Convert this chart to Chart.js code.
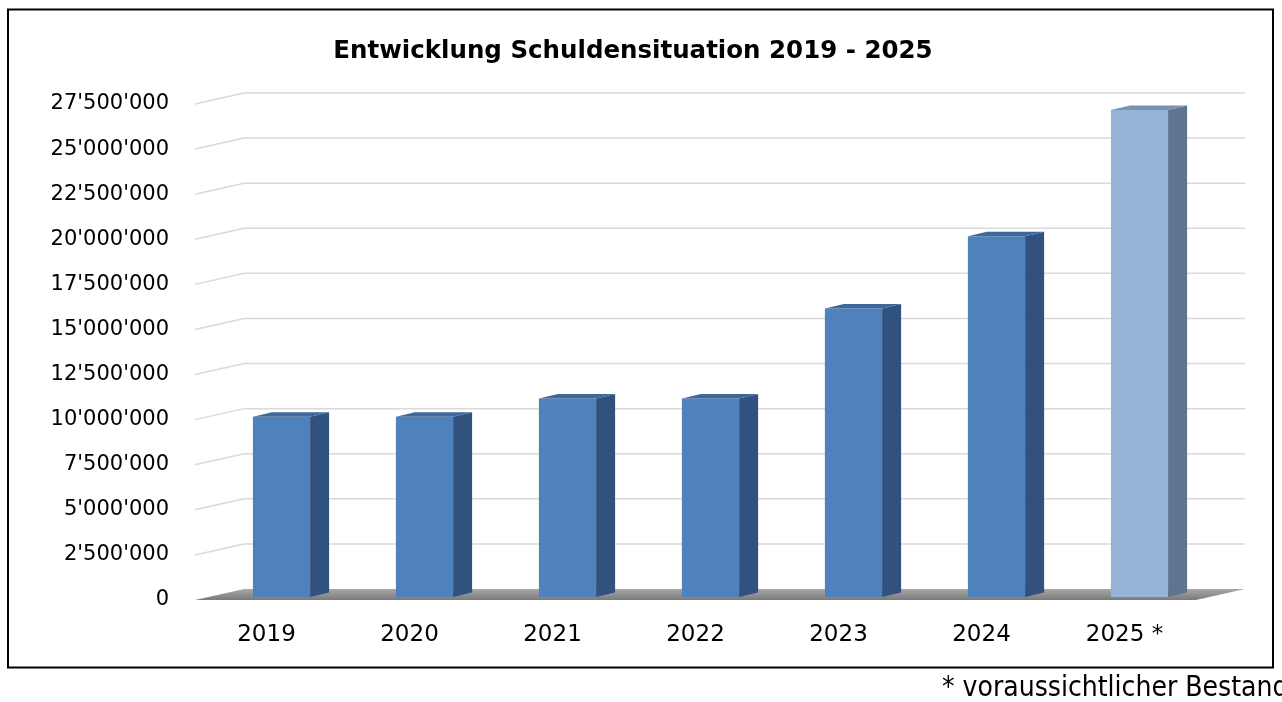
<!DOCTYPE html>
<html>
<head>
<meta charset="utf-8">
<title>Entwicklung Schuldensituation</title>
<style>
  html, body { margin: 0; padding: 0; background: #ffffff; }
  #wrap { width: 1282px; height: 702px; }
</style>
<script src="https://cdn.jsdelivr.net/npm/chart.js@4.4.0/dist/chart.umd.min.js"></script>
</head>
<body>
<div id="wrap"><canvas id="debt_chart" width="1282" height="702"></canvas></div>
<script>
const years = ['2019', '2020', '2021', '2022', '2023', '2024', '2025 *']
const debt = [10000000, 10000000, 11000000, 11000000, 16000000, 20000000, 27000000]
const yMin = 0
const yMax = 27500000
const yStep = 2500000
const chartTitle = 'Entwicklung Schuldensituation 2019 - 2025'
const footnote = '* voraussichtlicher Bestand'

// fake 3d: back wall offset, bar position inside the depth, bar depth
const WALL = { x: 49, y: -11 }
const BAR_SHIFT = { x: 15, y: -3 }
const BAR_DEPTH = { x: 19, y: -4.5 }

const isForecast = (label) => label.indexOf('*') !== -1
const frontColor = (label) => (isForecast(label) ? '#95b3d7' : '#4f81bd')
const sideColor = (label) => (isForecast(label) ? '#5f7490' : '#31527f')
const topColor = (label) => (isForecast(label) ? '#7a91b1' : '#3e679b')

const formatSwiss = (value) =>
  String(value).replace(/\B(?=(\d{3})+(?!\d))/g, "'")

const pseudo3d = {
  id: 'pseudo3d',
  beforeDatasetsDraw(chart) {
    const { ctx, chartArea: area, scales } = chart
    const yScale = scales.y
    ctx.save()

    // floor
    const grad = ctx.createLinearGradient(0, area.bottom + WALL.y, 0, area.bottom)
    grad.addColorStop(0, '#a9a9a9')
    grad.addColorStop(1, '#7a7a7a')
    ctx.fillStyle = grad
    ctx.beginPath()
    ctx.moveTo(area.left, area.bottom)
    ctx.lineTo(area.right, area.bottom)
    ctx.lineTo(area.right + WALL.x, area.bottom + WALL.y)
    ctx.lineTo(area.left + WALL.x, area.bottom + WALL.y)
    ctx.closePath()
    ctx.fill()

    // grid lines on the side and back wall
    ctx.strokeStyle = '#d9d9d9'
    ctx.lineWidth = 1.5
    yScale.ticks.forEach((tick) => {
      if (tick.value === yMin) return
      const py = yScale.getPixelForValue(tick.value)
      ctx.beginPath()
      ctx.moveTo(area.left, py)
      ctx.lineTo(area.left + WALL.x, py + WALL.y)
      ctx.lineTo(area.right + WALL.x, py + WALL.y)
      ctx.stroke()
    })
    ctx.restore()

    // front faces are drawn by chart.js, pushed into the depth
    ctx.save()
    ctx.translate(BAR_SHIFT.x, BAR_SHIFT.y)
  },
  afterDatasetsDraw(chart) {
    const { ctx } = chart
    ctx.restore()
    const meta = chart.getDatasetMeta(0)
    meta.data.forEach((bar, i) => {
      const { x, y, base, width } = bar.getProps(['x', 'y', 'base', 'width'], true)
      const label = chart.data.labels[i]
      const left = x - width / 2 + BAR_SHIFT.x
      const right = x + width / 2 + BAR_SHIFT.x
      const top = y + BAR_SHIFT.y
      const bottom = base + BAR_SHIFT.y

      ctx.fillStyle = sideColor(label)
      ctx.beginPath()
      ctx.moveTo(right, bottom)
      ctx.lineTo(right, top)
      ctx.lineTo(right + BAR_DEPTH.x, top + BAR_DEPTH.y)
      ctx.lineTo(right + BAR_DEPTH.x, bottom + BAR_DEPTH.y)
      ctx.closePath()
      ctx.fill()

      ctx.fillStyle = topColor(label)
      ctx.beginPath()
      ctx.moveTo(left, top)
      ctx.lineTo(right, top)
      ctx.lineTo(right + BAR_DEPTH.x, top + BAR_DEPTH.y)
      ctx.lineTo(left + BAR_DEPTH.x, top + BAR_DEPTH.y)
      ctx.closePath()
      ctx.fill()
    })
  },
  afterDraw(chart) {
    const { ctx } = chart
    ctx.save()
    ctx.strokeStyle = '#000000'
    ctx.lineWidth = 2
    ctx.strokeRect(8, 9.5, 1265, 658)
    ctx.fillStyle = '#000000'
    ctx.font = '28px "DejaVu Sans Condensed", "DejaVu Sans"'
    ctx.textAlign = 'left'
    ctx.textBaseline = 'alphabetic'
    ctx.fillText(footnote, 942, 696)
    ctx.restore()
  },
}

new Chart(document.getElementById('debt_chart').getContext('2d'), {
  type: 'bar',
  data: {
    labels: years,
    datasets: [
      {
        label: 'Schulden',
        data: debt,
        backgroundColor: years.map(frontColor),
        borderWidth: 0,
        categoryPercentage: 1,
        barPercentage: 0.4,
      },
    ],
  },
  options: {
    responsive: false,
    animation: false,
    layout: {
      padding: { left: 40, right: 56, top: 0, bottom: 0 },
    },
    plugins: {
      legend: { display: false },
      tooltip: { enabled: false },
      title: {
        display: true,
        text: chartTitle,
        color: '#000000',
        font: { family: 'DejaVu Sans', size: 24.5, weight: 'bold' },
        padding: { top: 37, bottom: 37.6 },
      },
    },
    scales: {
      x: {
        grid: { display: false },
        border: { display: false },
        ticks: {
          color: '#000000',
          padding: 13,
          font: { family: 'DejaVu Sans', size: 23 },
        },
        afterFit: (scale) => {
          scale.height = 102
        },
      },
      y: {
        min: yMin,
        max: yMax,
        grid: { display: false, drawTicks: false },
        border: { display: false },
        ticks: {
          stepSize: yStep,
          color: '#000000',
          padding: 26,
          font: { family: 'DejaVu Sans', size: 21 },
          callback: (value) => formatSwiss(value),
        },
        afterFit: (scale) => {
          scale.width = 155
        },
      },
      // empty right-hand strip so the plot ends where the back wall starts
      spacer: {
        position: 'right',
        grid: { display: false },
        border: { display: false },
        ticks: { display: false },
        afterFit: (scale) => {
          scale.width = 30
        },
      },
    },
  },
  plugins: [pseudo3d],
})
</script>
</body>
</html>
